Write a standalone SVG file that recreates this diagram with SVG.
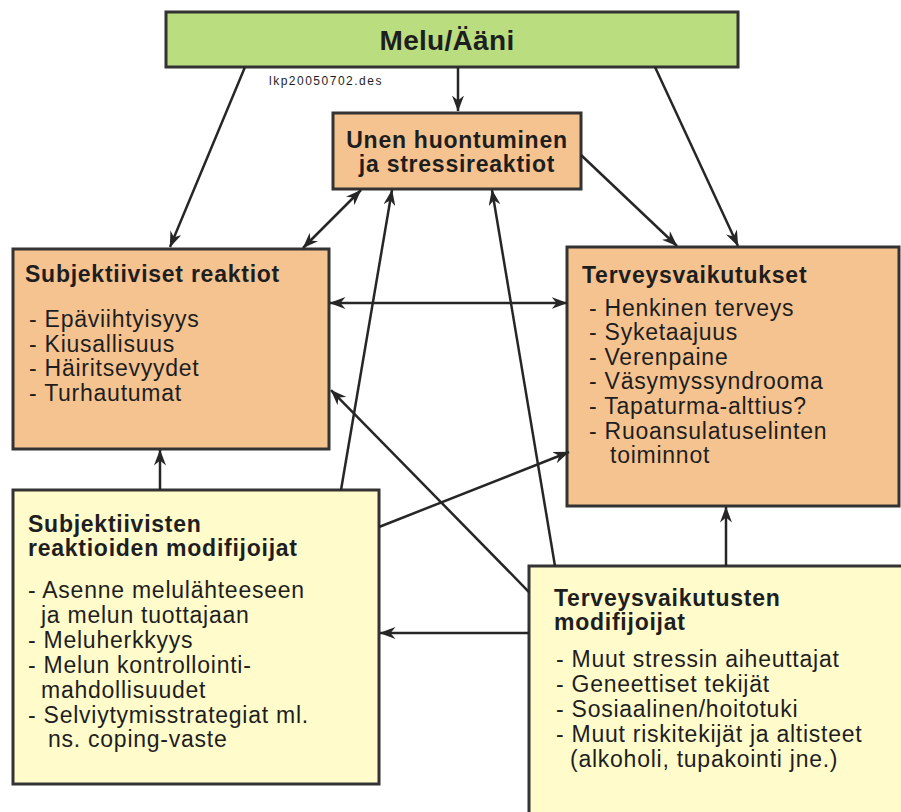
<svg xmlns="http://www.w3.org/2000/svg" width="901" height="812" viewBox="0 0 901 812">
<style>
.box{stroke:#333;stroke-width:3}
.g{fill:#b9dd7f}
.o{fill:#f5c390}
.y{fill:#fffbcb}
text{font-family:"Liberation Sans",Arial,sans-serif;fill:#1e1e1e;font-size:23px;letter-spacing:0.75px}
.b{font-weight:bold}
.c{text-anchor:middle}
.conn path{fill:none;stroke:#262626;stroke-width:2.5}
</style>
<defs>
<marker id="ah" viewBox="0 0 16 12" markerWidth="16" markerHeight="12" refX="15.5" refY="6" orient="auto-start-reverse" markerUnits="userSpaceOnUse">
<path d="M0,0 L16,6 L0,12 L5,6 z" fill="#262626"/>
</marker>
</defs>
<rect width="901" height="812" fill="#fff"/>

<g id="melu">
<rect class="box g" x="166" y="12" width="572" height="55"/>
<text class="b c" x="447" y="50" style="font-size:28px;letter-spacing:0.3px">Melu/Ääni</text>
</g>
<text x="269" y="85" style="font-size:12px;letter-spacing:1.5px">lkp20050702.des</text>

<g id="unen">
<rect class="box o" x="333" y="113" width="248" height="76"/>
<text class="b c" x="457" y="148">Unen huontuminen</text>
<text class="b c" x="457" y="172">ja stressireaktiot</text>
</g>

<g id="subj">
<rect class="box o" x="13" y="249" width="316" height="200"/>
<text class="b" x="25" y="282">Subjektiiviset reaktiot</text>
<text x="29" y="327">- Epäviihtyisyys</text>
<text x="29" y="352">- Kiusallisuus</text>
<text x="29" y="376">- Häiritsevyydet</text>
<text x="29" y="401">- Turhautumat</text>
</g>

<g id="terveys">
<rect class="box o" x="567" y="247" width="332" height="259"/>
<text class="b" x="582" y="283">Terveysvaikutukset</text>
<text x="589" y="316">- Henkinen terveys</text>
<text x="589" y="340">- Syketaajuus</text>
<text x="589" y="365">- Verenpaine</text>
<text x="589" y="389">- Väsymyssyndrooma</text>
<text x="589" y="414">- Tapaturma-alttius?</text>
<text x="589" y="439">- Ruoansulatuselinten</text>
<text x="610" y="463">toiminnot</text>
</g>

<g id="subjmod">
<rect class="box y" x="13" y="490" width="366" height="294"/>
<text class="b" x="28" y="532">Subjektiivisten</text>
<text class="b" x="28" y="556">reaktioiden modifijoijat</text>
<text x="28" y="598">- Asenne melulähteeseen</text>
<text x="41" y="623">ja melun tuottajaan</text>
<text x="28" y="648">- Meluherkkyys</text>
<text x="28" y="673">- Melun kontrollointi-</text>
<text x="41" y="698">mahdollisuudet</text>
<text x="28" y="723">- Selviytymisstrategiat ml.</text>
<text x="48" y="747">ns. coping-vaste</text>
</g>

<g id="terveysmod">
<rect class="box y" x="529" y="566" width="380" height="260"/>
<text class="b" x="554" y="606">Terveysvaikutusten</text>
<text class="b" x="554" y="630">modifijoijat</text>
<text x="556" y="667">- Muut stressin aiheuttajat</text>
<text x="556" y="692">- Geneettiset tekijät</text>
<text x="556" y="717">- Sosiaalinen/hoitotuki</text>
<text x="556" y="742">- Muut riskitekijät ja altisteet</text>
<text x="570" y="767">(alkoholi, tupakointi jne.)</text>
</g>

<g id="connectors" class="conn">
<path d="M245,67 L170,247" marker-end="url(#ah)"/>
<path d="M458,67 L458,111" marker-end="url(#ah)"/>
<path d="M655,67 L738,246" marker-end="url(#ah)"/>
<path d="M361,190 L303,248" marker-start="url(#ah)" marker-end="url(#ah)"/>
<path d="M581,155 L677,246" marker-end="url(#ah)"/>
<path d="M341,490 L392,190" marker-end="url(#ah)"/>
<path d="M555,566 L492,190" marker-end="url(#ah)"/>
<path d="M330,303 L567,303" marker-start="url(#ah)" marker-end="url(#ah)"/>
<path d="M529,592 L331,390" marker-end="url(#ah)"/>
<path d="M379,527 L569,452" marker-end="url(#ah)"/>
<path d="M160,490 L160,450" marker-end="url(#ah)"/>
<path d="M726,566 L726,507" marker-end="url(#ah)"/>
<path d="M529,633 L380,633" marker-end="url(#ah)"/>
</g>
</svg>
